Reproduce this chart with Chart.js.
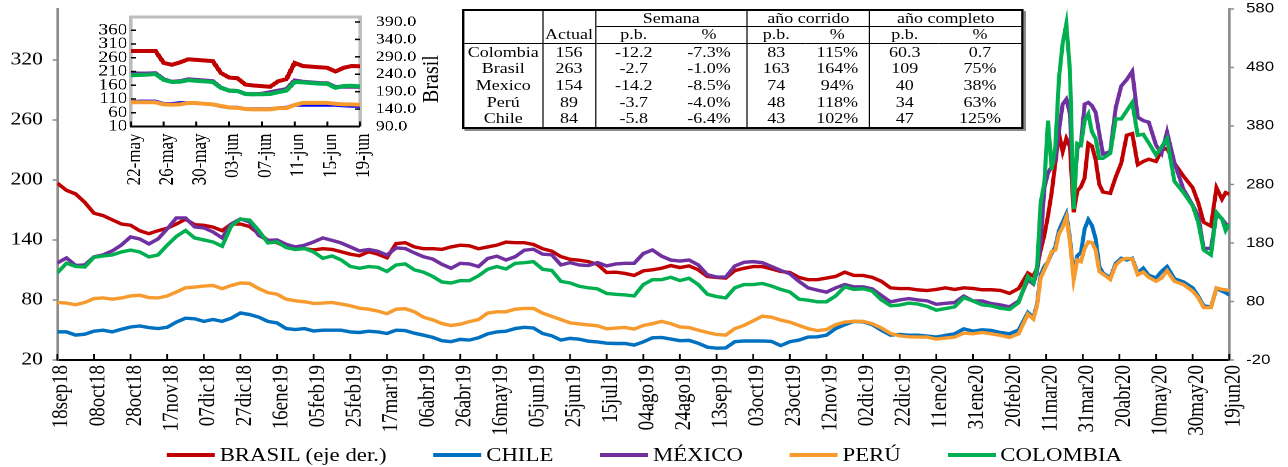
<!DOCTYPE html>
<html>
<head>
<meta charset="utf-8">
<script src="https://cdn.jsdelivr.net/npm/chart.js@4.4.1/dist/chart.umd.min.js"></script>
<style>
  html, body { margin: 0; padding: 0; background: #fff; }
  body { width: 1288px; height: 467px; overflow: hidden; position: relative; font-family: "Liberation Serif", "Times New Roman", serif; color: #000; }
  .stretch { position: absolute; transform: scaleX(1.2); transform-origin: 0 0; }
  canvas { display: block; }
  #mainWrap { left: 0; top: -10px; width: 1074px; height: 477px; }
  #insetWrap { left: 85px; top: 0; width: 300px; height: 192px; background: #fff; }
  #brasilTitle { position: absolute; left: 430px; top: 79px; font-size: 20px; line-height: 1; white-space: nowrap;
    transform: translate(-50%, -50%) scaleX(1.2) rotate(-90deg); }
  #tblWrap { left: 462px; top: 9px; width: 468px; height: 120px; box-sizing: border-box; border: 2px solid #000;
    box-shadow: 2px 2px 0 #8a8a8a; background: #fff; }
  #tblWrap table { border-collapse: collapse; width: 100%; height: 100%; table-layout: fixed; font-size: 15px; }
  #tblWrap td { padding: 0; text-align: center; line-height: 1; white-space: nowrap; }
  .br { border-right: 1px solid #000; }
  .bb { border-bottom: 1px solid #000; }
  #legend { left: 0; top: 443px; width: 1074px; height: 24px; display: flex; justify-content: center; align-items: center; font-size: 19px; }
  #legend .item { display: flex; align-items: center; margin: 0 19.5px; white-space: nowrap; }
  #legend .item i { display: inline-block; width: 40px; height: 4px; margin-right: 4px; }
</style>
</head>
<body>
<div id="mainWrap" class="stretch"><canvas id="main" width="1074" height="477"></canvas></div>
<div id="insetWrap" class="stretch"><canvas id="inset" width="300" height="192"></canvas></div>
<div id="brasilTitle">Brasil</div>
<div id="tblWrap" class="stretch">
  <table>
    <colgroup>
      <col style="width:14.04%"><col style="width:9.48%"><col style="width:13.67%"><col style="width:13.56%">
      <col style="width:10.46%"><col style="width:11.62%"><col style="width:12.40%"><col style="width:14.77%">
    </colgroup>
    <tr style="height:15.7px"><td rowspan="2" class="br bb"></td><td class="br"></td>
      <td colspan="2" class="br bb">Semana</td><td colspan="2" class="br bb">año corrido</td><td colspan="2" class="bb">año completo</td></tr>
    <tr style="height:16.6px"><td class="br bb">Actual</td><td class="bb">p.b.</td><td class="br bb">%</td>
      <td class="bb">p.b.</td><td class="br bb">%</td><td class="bb">p.b.</td><td class="bb">%</td></tr>
    <tr><td class="br">Colombia</td><td class="br">156</td><td>-12.2</td><td class="br">-7.3%</td><td>83</td><td class="br">115%</td><td>60.3</td><td>0.7</td></tr>
    <tr><td class="br">Brasil</td><td class="br">263</td><td>-2.7</td><td class="br">-1.0%</td><td>163</td><td class="br">164%</td><td>109</td><td>75%</td></tr>
    <tr><td class="br">Mexico</td><td class="br">154</td><td>-14.2</td><td class="br">-8.5%</td><td>74</td><td class="br">94%</td><td>40</td><td>38%</td></tr>
    <tr><td class="br">Perú</td><td class="br">89</td><td>-3.7</td><td class="br">-4.0%</td><td>48</td><td class="br">118%</td><td>34</td><td>63%</td></tr>
    <tr><td class="br">Chile</td><td class="br">84</td><td>-5.8</td><td class="br">-6.4%</td><td>43</td><td class="br">102%</td><td>47</td><td>125%</td></tr>
  </table>
</div>
<div id="legend" class="stretch"></div>

<script>
// días desde 18sep18
const days = [0,5,10,15,20,25,30,35,40,45,50,55,60,65,70,75,80,85,90,95,100,105,110,115,120,125,130,135,140,145,150,155,160,
  165,170,175,180,185,190,195,200,205,210,215,220,225,230,235,240,245,250,255,260,265,270,275,280,285,290,295,300,305,310,315,320,
  325,330,335,340,345,350,355,360,365,370,375,380,385,390,395,400,405,410,415,420,425,430,435,440,445,450,455,460,465,470,475,
  480,485,490,495,500,505,510,515,520,525,
  530,533,535,537,539,541,543,545,547,549,551,553,555,557,559,561,563,565,567,569,571,575,578,581,584,587,590,593,596,600,603,606,610,615,620,623,626,630,633,636,638,640];

const brasil = [282.2,269.9,263.7,249.3,230.8,226.7,219.5,212.3,210.2,200.9,195.8,200.9,205.1,212.3,220.5,211.2,210.2,207.1,200.9,212.3,212.3,208.1,195.8,184.5,180.4,173.2,173.2,170.1,168,170.1,169,164.9,160.8,
  158.1,165,160.8,154.6,178.8,180.4,173.2,170.1,170.1,169,173.2,176.2,175.2,170.1,173.2,176.2,181.4,180.4,180.4,177.3,170.1,166,156.7,152,150.5,148.1,143.3,129.5,130,127.9,124.5,132.3,
  134.1,136.7,141.3,137.9,140.8,134.1,122.7,121.1,120,132.8,136.7,139.6,139.6,135.7,131.2,129.5,121.1,117.2,117.2,120,122.7,130.1,124.4,124.4,121.1,114.4,103.2,102.1,102.1,99.8,98.7,
  100.5,103.3,100.5,103.3,102.2,100,100,98.8,93.8,102.2,
  128.5,123,137,167.8,193,226.7,266,316.4,366.8,336,358.4,344.4,232.3,268.7,276,291.1,350,345.5,322,280,267,264.8,292.8,316.4,364,366.8,313.6,319.2,323.1,319.2,338.8,341.6,316.4,294,274.3,249.1,215.4,208.7,274.3,254.7,265.9,263.1];

const chile = [48.1,48.1,44.9,45.8,48.8,49.8,48.1,50.7,53,54,52.4,51.4,52.7,57.9,61.8,61.2,58.6,60.5,58.6,61.8,67,65.4,62.8,58.6,57,51.4,50.4,51.4,49,49.8,49.8,49.8,48.1,
  47.5,48.8,48.1,46.5,49.8,49.4,46.8,44.8,42.6,39.3,38.3,40.6,39.9,42.2,46.1,48.1,48.8,51.4,52.7,52,46.5,44.2,39.9,41.6,40.8,38.8,38.1,36.8,36.5,36.5,34.9,38.1,
  42.2,42.5,40.9,39.3,39.6,36.7,32.8,31.8,32.1,38.3,39,39,39,38.6,34.4,38.3,39.9,42.9,43.2,44.8,51.4,55.3,58.6,58.2,55.3,49.8,44.8,45.5,44.8,44.8,43.9,
  42.9,44.6,46.2,51.1,48.8,50.1,49.5,47.5,46.2,50.1,
  67.5,62.6,75.7,105.2,113.4,118.3,126.5,133.1,149.5,157.7,165.9,141.3,103.6,124.2,127.5,151.1,160.3,154.4,141.3,113.4,106.9,102,116.7,121.6,120,121.6,106.9,111.8,104.6,102,108.5,113.4,101.3,98,92.1,83.9,74.1,73.1,91.5,88.8,87.2,84.9];

const mexico = [117,122,114.5,115,123,125,129,135,143,141,136,141,151,162,162,153,152,148,142,156,161,158,144.5,139.6,140,135.6,133,134.7,138,142,139.6,137,133,
  129,130.4,128.7,124.8,132,131.4,127,123.2,120.9,115.7,111.7,116.6,116,113.4,121.5,123.8,119.9,123.2,129.7,130.7,125.8,125.1,115,117.3,115,114.4,117.3,114,116,116.6,116.6,126.4,
  130,123.8,119.9,118.9,119.9,115,105.2,102.9,102.9,114,117.6,118.3,117.3,113.4,109.5,106.2,98.6,92.1,89.8,87.8,92.1,95.4,93.1,93.1,91.1,84.6,78.1,80,81.4,80,79.1,
  75.7,76.7,77.4,83.9,79,79,76.4,75.1,73.1,79,
  100.3,96,108.5,138,192,206.9,213.4,220,249.5,275.7,280.6,265.9,180.6,231.5,236.4,275.7,277.4,274.1,267.5,246.2,225.9,228.2,272.4,293.8,300.3,308.5,262.6,259.3,257.7,234.7,226.5,247.9,217.3,190.5,174.7,164.2,131.5,131.5,165.9,161,156,154.4];

const peru = [77.5,76.9,75.2,77.5,81.4,82,80.8,82,84,84.7,82.4,82,84,88,92.2,92.9,93.9,94.5,91.3,94.5,97,96.5,91.3,87.3,85.7,80.8,79.2,78.2,76.5,76.9,77.5,75.9,74.2,
  71.8,70.8,68.9,66.3,70.8,71.2,68.2,62.7,60.1,56.5,54.5,55.8,58.4,60.4,66.9,68.2,68.2,70.8,71.5,71.5,66.9,63.6,60.4,57.1,56.1,55.1,54.2,51.2,51.9,52.5,50.9,54.5,
  56.3,58.6,56.3,53,52.4,49.8,47.5,45.5,44.9,51.4,54.6,59.2,63.8,62.8,59.9,57.9,54.6,51.4,49.4,50.4,55.3,57.9,58.6,58.6,56.3,52,46.5,44.2,43.2,42.9,42.9,
  40.9,41.9,42.9,46.9,46.2,47.5,46.2,44.6,42.6,46.2,
  65.9,61,74.1,101.9,110.1,118.3,128.2,129.8,146.2,152.8,162.6,138,100.3,120,118.3,131.5,138,137.4,129.8,108.5,105.9,100.5,115,120,121.6,121,105.2,107.9,102.6,98.7,101.9,109.2,98.7,95.4,88.8,82.3,72.4,72.4,92.1,90.5,90.1,89.5];

const colombia = [107,116.7,113.5,113,122.6,124,125,128,129.8,128,123,125,134.7,143.5,149.4,142,140,138,133.7,154,160.8,159.8,149.4,137,138,132.4,130.4,131.4,128,121.6,124,120,113.5,
  111.7,113.4,112.7,108.5,115,116,110.1,107.8,103.5,98,97,99.3,99.3,104.2,110.7,113.4,111,116.6,117.3,118.3,110.7,109.5,98.6,97,93.7,92.1,91.1,86.5,85.6,85,84,95.4,
  100.3,100.3,102.7,99.4,101.7,95.4,85.7,83.4,82.1,92.2,95.4,95.4,96.5,93.9,90.6,88,80.8,79.8,78.2,78.2,84,93.2,90.6,91.2,89,80.1,74.2,74.9,76.9,75.9,73.6,
  69.8,71.4,73.1,82.3,79,75.1,74.1,71.8,70.5,77.4,
  103.6,97,111.8,177.4,197,259.3,210.2,233.1,302,336.4,356,308.5,170.8,236.4,234.7,259.3,265.9,247.9,241.3,221.6,221.6,226.5,260.9,260.9,269.2,277.4,244.6,245.6,237,224.9,233.1,241.3,198.7,187.2,174.1,157.7,129.8,124.9,167.5,161,149.5,156];

const mainTickLabels = ['18sep18','08oct18','28oct18','17nov18','07dic18','27dic18','16ene19','05feb19','25feb19','17mar19','06abr19',
  '26abr19','16may19','05jun19','25jun19','15jul19','04ago19','24ago19','13sep19','03oct19','23oct19','12nov19','02dic19','22dic19',
  '11ene20','31ene20','20feb20','11mar20','31mar20','20abr20','10may20','30may20','19jun20'];
const leftTicks = [20, 80, 140, 200, 260, 320];
const rightTicks = [-20, 80, 180, 280, 380, 480, 580];

// recuadro: 22-may a 19-jun
const insetDays = [0,1,2,3,4,5,6,7,8,9,10,11,12,13,14,15,16,17,18,19,20,21,22,23,24,25,26,27,28];
const insetBrasil = [306.7,306.7,306.7,306.7,272.5,267.2,274.2,283,281.3,279.5,277.7,243.5,230.4,228.6,210.2,207.6,205.8,204.1,219.9,226,272.5,263.7,262,260.2,258.5,247.9,258.5,263.7,262.8];
const insetColombia = [196.2,197.3,198.4,200.7,179.5,171.7,172.8,178.4,176.1,173.9,171.7,150.5,140.5,139.3,128.2,127.1,127.1,128.2,134.9,140.5,171.7,170.6,168.3,166.1,165,150.5,157.2,158.3,156];
const insetMexico = [204,202.9,202.9,204,181.7,172.8,175,181.7,179.5,177.3,175,151.6,140.5,139.3,128.2,127.1,129.3,134.9,140.5,146,177.3,172.8,170.6,168.3,167.2,153.8,155,154.5,154];
const insetChile = [99.2,101.4,101.4,101.4,92.5,92.5,95.9,95.9,94.8,92.5,90.3,83.6,79.1,79.1,73.6,73.6,73.6,73.6,76.9,79.1,88,88,88,88,88,88,85.8,84.7,84];
const insetPeru = [98,98,98,98,90.3,89.2,90.3,95.9,94.8,92.5,90.3,84.7,79.1,77.9,73.6,72.4,72.4,72.4,76.9,76.9,88,95.9,95.9,95.9,95.9,92.5,90.3,90.3,89];
const insetTickLabels = ['22-may','26-may','30-may','03-jun','07-jun','11-jun','15-jun','19-jun'];
const insetLeftTicks = [10, 60, 110, 160, 210, 260, 310, 360];
const insetRightTicks = [90, 140, 190, 240, 290, 340, 390];

const RED = '#c00000', BLUE = '#0070c0', PURPLE = '#7030a0', ORANGE = '#f79b2e', GREEN = '#00b050';

// marcas de eje hacia adentro del área de trazado
const innerTicks = {
  id: 'innerTicks',
  afterDraw(chart, args, opts) {
    const ctx = chart.ctx, a = chart.chartArea;
    ctx.save();
    ctx.strokeStyle = opts.color;
    ctx.lineWidth = opts.width;
    Object.entries(opts.dirs).forEach(([id, dir]) => {
      const sc = chart.scales[id];
      sc.ticks.forEach(t => {
        const p = sc.getPixelForValue(t.value);
        ctx.beginPath();
        if (dir === 'up') { ctx.moveTo(p, a.bottom); ctx.lineTo(p, a.bottom - opts.len); }
        else if (dir === 'right') { ctx.moveTo(a.left, p); ctx.lineTo(a.left + opts.hlen, p); }
        else { ctx.moveTo(a.right, p); ctx.lineTo(a.right - opts.hlen, p); }
        ctx.stroke();
      });
    });
    ctx.restore();
  }
};

const insetFrame = {
  id: 'insetFrame',
  beforeDatasetsDraw(chart, args, opts) {
    const ctx = chart.ctx, a = chart.chartArea;
    ctx.save();
    ctx.strokeStyle = opts.color;
    ctx.lineWidth = opts.width;
    ctx.beginPath();
    ctx.moveTo(a.left, a.bottom);
    ctx.lineTo(a.left, a.top - opts.lift);
    ctx.lineTo(a.right, a.top - opts.lift);
    ctx.lineTo(a.right, a.bottom);
    ctx.stroke();
    ctx.restore();
  }
};

function pts(xs, ys) { return xs.map((x, i) => ({ x: x, y: ys[i] })); }

function line(label, color, xs, ys, axis, order, width) {
  return { label: label, data: pts(xs, ys), borderColor: color, backgroundColor: color, borderWidth: width,
    pointRadius: 0, tension: 0, yAxisID: axis, order: order };
}

const serif = 'Liberation Serif';

const mainChart = new Chart(document.getElementById('main'), {
  type: 'line',
  data: {
    datasets: [
      line('BRASIL (eje der.)', RED, days, brasil, 'y1', 5, 3.4),
      line('CHILE', BLUE, days, chile, 'y', 4, 3.4),
      line('MÉXICO', PURPLE, days, mexico, 'y', 3, 3.4),
      line('PERÚ', ORANGE, days, peru, 'y', 2, 3.4),
      line('COLOMBIA', GREEN, days, colombia, 'y', 1, 3.4)
    ]
  },
  options: {
    responsive: false,
    animation: false,
    devicePixelRatio: 2,
    layout: { autoPadding: false, padding: { top: 13.3, bottom: 0, left: 0, right: 0 } },
    scales: {
      x: {
        type: 'linear', min: 0, max: 640,
        afterBuildTicks: s => { s.ticks = mainTickLabels.map((l, i) => ({ value: i * 20 })); },
        afterFit: s => { s.height = 107; },
        ticks: { callback: (v, i) => mainTickLabels[i], autoSkip: false, minRotation: 90, maxRotation: 90,
          labelOffset: 3.5, font: { family: serif, size: 19 }, color: '#000', padding: 5 },
        grid: { display: false, drawTicks: false },
        border: { color: '#000', width: 2 }
      },
      y: {
        position: 'left', min: 20, max: 371,
        afterBuildTicks: s => { s.ticks = leftTicks.map(v => ({ value: v })); },
        afterFit: s => { s.width = 47.75; },
        ticks: { autoSkip: false, font: { family: serif, size: 18 }, color: '#000', padding: 8 },
        grid: { display: true, drawOnChartArea: false, drawTicks: true, tickLength: 4, color: '#8c8c8c', tickWidth: 1.5 },
        border: { color: '#8c8c8c', width: 2 }
      },
      y1: {
        position: 'right', min: -20, max: 580,
        afterBuildTicks: s => { s.ticks = rightTicks.map(v => ({ value: v })); },
        afterFit: s => { s.width = 49.6; },
        ticks: { autoSkip: false, font: { family: 'Liberation Sans', size: 14 }, color: '#000', padding: 10 },
        grid: { display: true, drawOnChartArea: false, drawTicks: true, tickLength: 4, color: '#8c8c8c', tickWidth: 1.5 },
        border: { color: '#8c8c8c', width: 2 }
      }
    },
    plugins: {
      legend: { display: false },
      tooltip: { enabled: false },
      innerTicks: { dirs: { x: 'up' }, len: 6, hlen: 5, width: 1.5, color: '#000' }
    }
  },
  plugins: [innerTicks]
});

const insetChart = new Chart(document.getElementById('inset'), {
  type: 'line',
  data: {
    datasets: [
      line('Brasil', RED, insetDays, insetBrasil, 'y1', 5, 4),
      line('Chile', '#0000ff', insetDays, insetChile, 'y', 4, 3.5),
      line('México', PURPLE, insetDays, insetMexico, 'y', 3, 4),
      line('Perú', ORANGE, insetDays, insetPeru, 'y', 2, 4),
      line('Colombia', GREEN, insetDays, insetColombia, 'y', 1, 4)
    ]
  },
  options: {
    responsive: false,
    animation: false,
    devicePixelRatio: 2,
    layout: { autoPadding: false, padding: { top: 13.3, bottom: 0, left: 0, right: 0 } },
    scales: {
      x: {
        type: 'linear', min: 0, max: 28,
        afterBuildTicks: s => { s.ticks = insetTickLabels.map((l, i) => ({ value: i * 4 })); },
        afterFit: s => { s.height = 65.5; },
        ticks: { callback: (v, i) => insetTickLabels[i], autoSkip: false, minRotation: 90, maxRotation: 90,
          labelOffset: 3, font: { family: serif, size: 17 }, color: '#000', padding: 7 },
        grid: { display: false, drawTicks: false },
        border: { color: '#000', width: 2 }
      },
      y: {
        position: 'left', min: 10, max: 390,
        afterBuildTicks: s => { s.ticks = insetLeftTicks.map(v => ({ value: v })); },
        afterFit: s => { s.width = 38.3; },
        ticks: { autoSkip: false, font: { family: serif, size: 16 }, color: '#000', padding: 3 },
        grid: { display: false, drawTicks: false },
        border: { display: false }
      },
      y1: {
        position: 'right', min: 90, max: 390,
        afterBuildTicks: s => { s.ticks = insetRightTicks.map(v => ({ value: v })); },
        afterFit: s => { s.width = 70.8; },
        ticks: { autoSkip: false, callback: v => v.toFixed(1), font: { family: serif, size: 15 }, color: '#000', padding: 13 },
        grid: { display: false, drawTicks: false },
        border: { display: false }
      }
    },
    plugins: {
      legend: { display: false },
      tooltip: { enabled: false },
      insetFrame: { color: '#bdbdbd', width: 3, lift: 5 },
      innerTicks: { dirs: { x: 'up', y: 'right', y1: 'left' }, len: 5, hlen: 4.2, width: 1.5, color: '#000' }
    }
  },
  plugins: [insetFrame, innerTicks]
});

// leyenda inferior a partir de las series del gráfico principal
const legendBox = document.getElementById('legend');
mainChart.data.datasets.forEach(ds => {
  const item = document.createElement('span');
  item.className = 'item';
  const sw = document.createElement('i');
  sw.style.background = ds.borderColor;
  item.appendChild(sw);
  item.appendChild(document.createTextNode(ds.label));
  legendBox.appendChild(item);
});
</script>
</body>
</html>
